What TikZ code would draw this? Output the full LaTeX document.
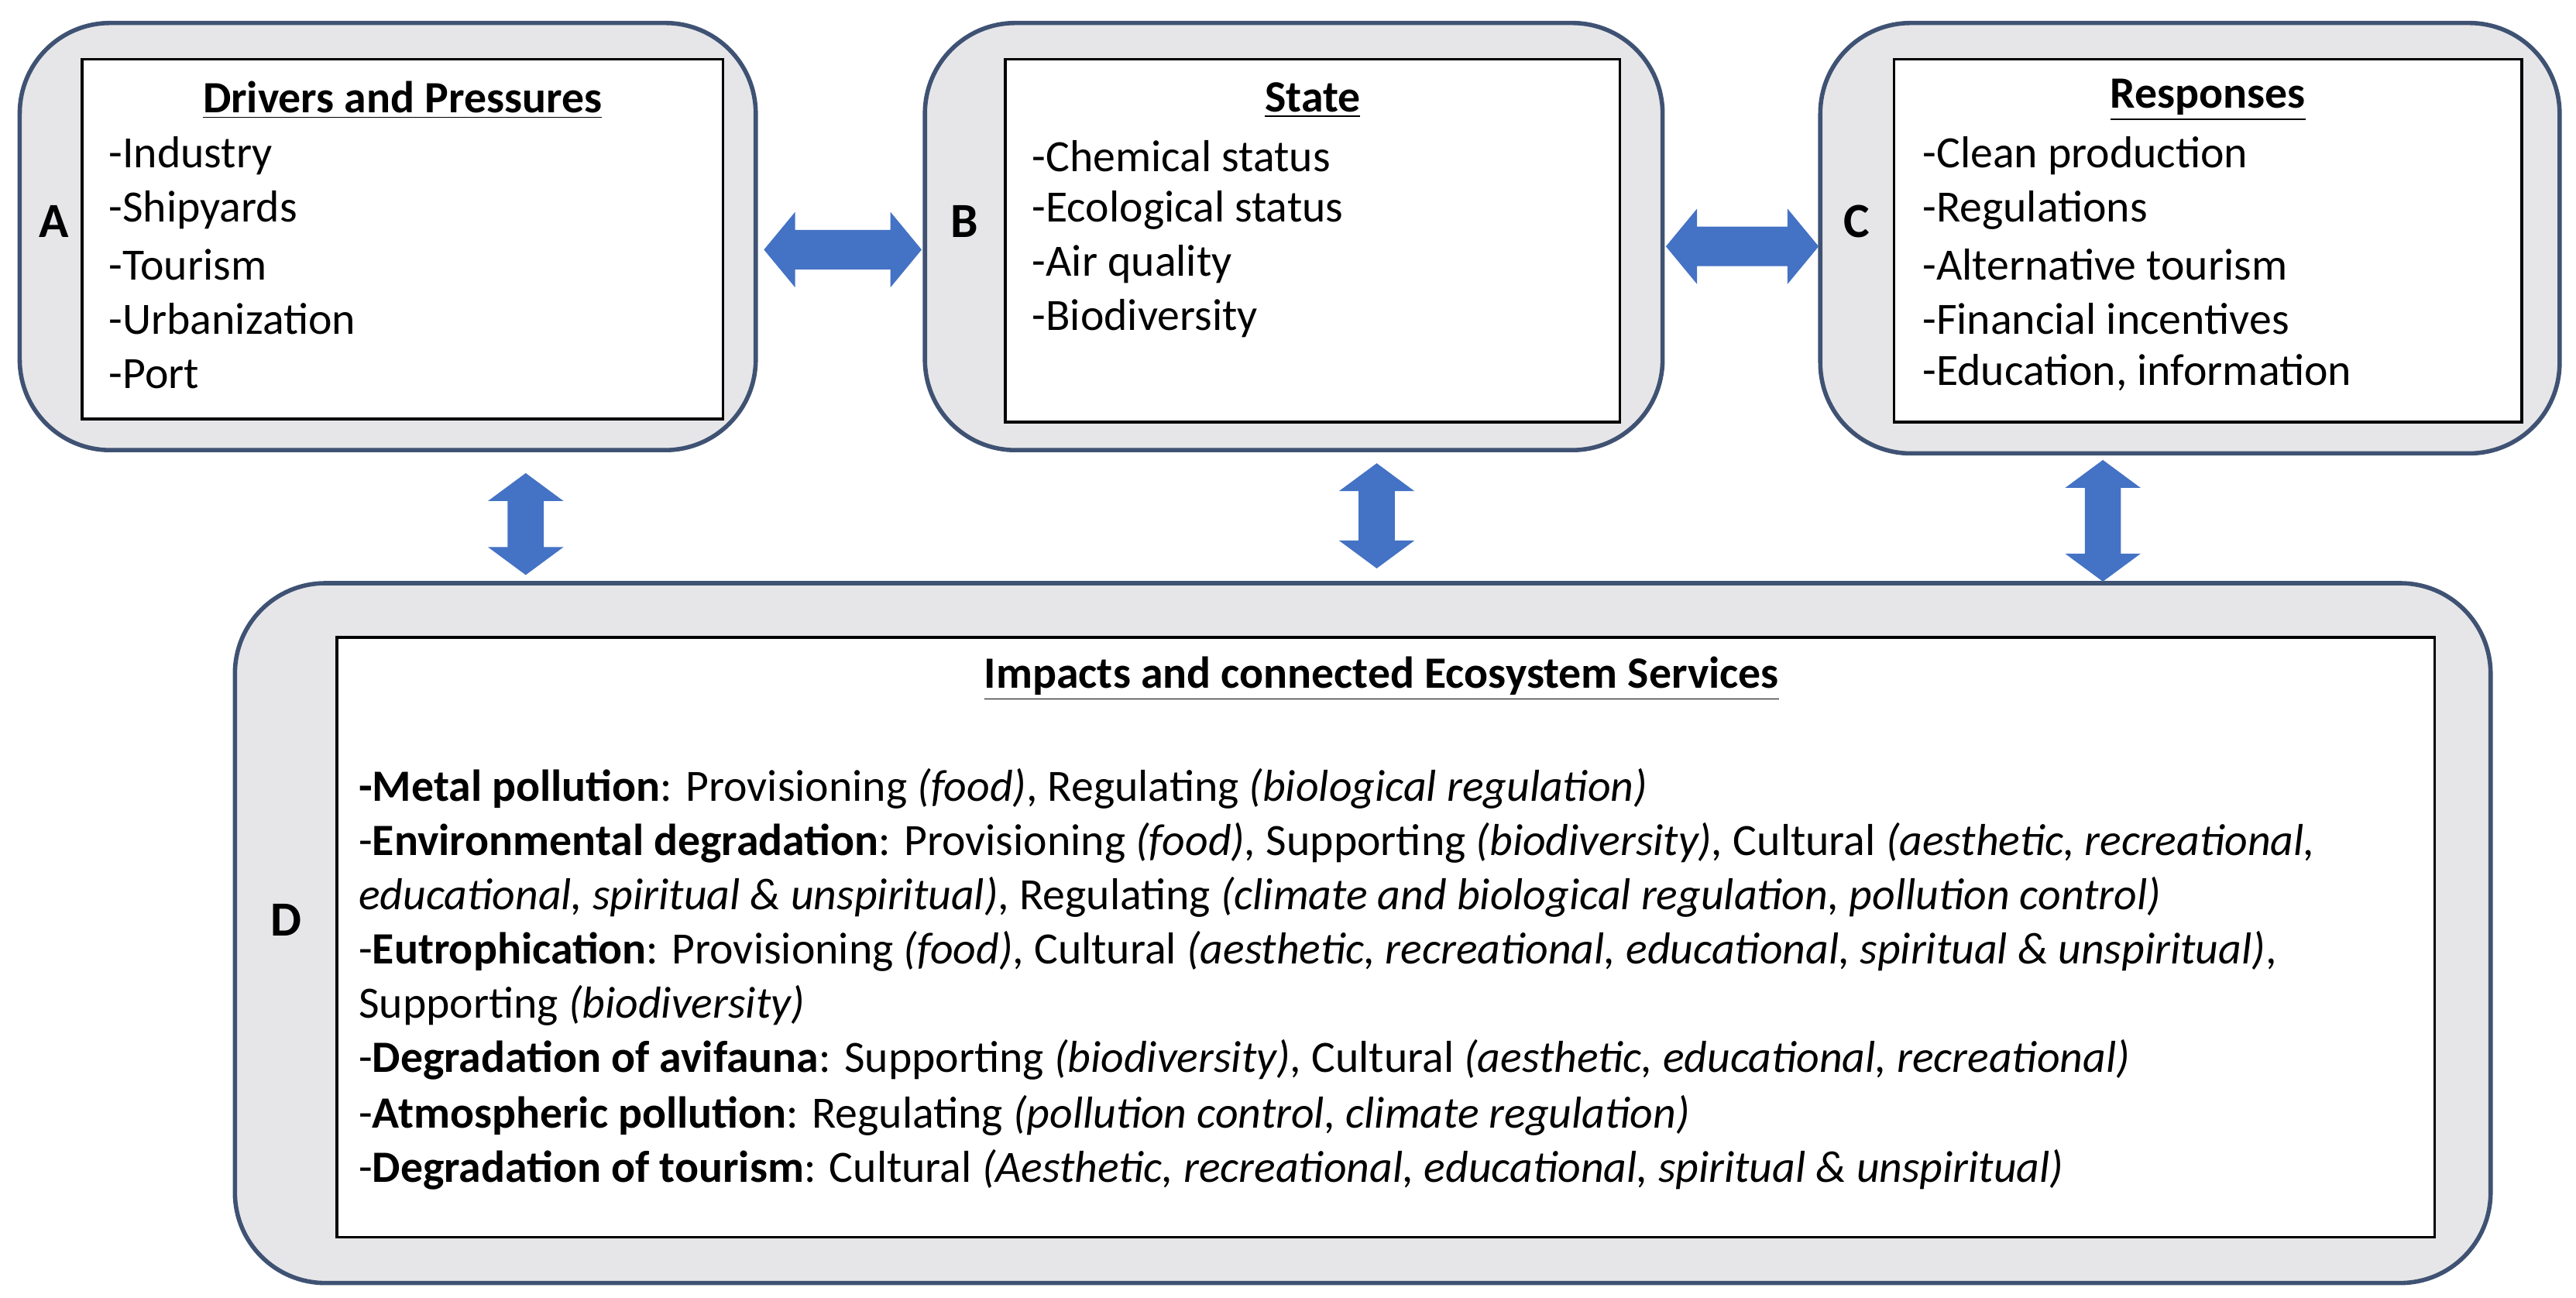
\documentclass[tikz,border=0pt]{standalone}
\usepackage{fontspec}
\setmainfont{Carlito}
\definecolor{bord}{HTML}{3F5273}
\definecolor{gfill}{HTML}{E6E6E8}
\definecolor{arr}{HTML}{4472C4}
\tikzset{
 outer/.style={draw=bord,line width=1.5pt,fill=gfill,rounded corners=1.1cm},
 inner/.style={draw=black,line width=0.9pt,fill=white},
 txt/.style={anchor=west,inner sep=0pt,font=\fontsize{15.5}{18.7}\selectfont},
 lab/.style={inner sep=0pt,font=\fontsize{17}{20}\selectfont\bfseries},
 ttl/.style={inner sep=0pt,font=\fontsize{15.5}{18.7}\selectfont\bfseries},
}
\newcommand\harrow[3]{% x1 x2 y
 \fill[arr] (#1,#3) -- (#1+19,#3-23) -- (#1+19,#3-12) -- (#2-19,#3-12) -- (#2-19,#3-23) -- (#2,#3) -- (#2-19,#3+23) -- (#2-19,#3+12) -- (#1+19,#3+12) -- (#1+19,#3+23) -- cycle;}
\newcommand\varrow[3]{% x y1 y2
 \fill[arr] (#1,#2) -- (#1-23,#2+17) -- (#1-11,#2+17) -- (#1-11,#3-17) -- (#1-23,#3-17) -- (#1,#3) -- (#1+23,#3-17) -- (#1+11,#3-17) -- (#1+11,#2+17) -- (#1+23,#2+17) -- cycle;}
\begin{document}
\begin{tikzpicture}[x=0.02cm,y=-0.02cm]
\useasboundingbox (0,0) rectangle (1568,790);
% boxes
\draw[outer] (12,14) rectangle (460,274);
\draw[inner] (50,36) rectangle (440,255);
\draw[outer] (563,14) rectangle (1012,274);
\draw[inner] (612,36) rectangle (986,257);
\draw[outer] (1108,14) rectangle (1558,276);
\draw[inner] (1153,36) rectangle (1535,257);
\draw[outer] (143,355) rectangle (1516,781);
\draw[inner] (205,388) rectangle (1482,753);
% arrows
\harrow{465}{561}{152}
\harrow{1014}{1107}{150}
\varrow{320}{288}{350}
\varrow{838}{282}{346}
\varrow{1280}{280}{354}
% labels
\node[lab] (la) at (33,135) {A};
\node[lab] (lb) at (587,135) {B};
\node[lab] (lc) at (1130,135) {C};
\node[lab] (ld) at (174,560) {D};
% A
\node[ttl] (ta) at (245,61) {\underline{Drivers and Pressures}};
\node[txt] (a1) at (66,95) {-Industry};
\node[txt] (a2) at (66,128) {-Shipyards};
\node[txt] (a3) at (66,161) {-Tourism};
\node[txt] (a4) at (66,194) {-Urbanization};
\node[txt] (a5) at (66,228) {-Port};
% B
\node[ttl] (tb) at (799,61) {\underline{State}};
\node[txt] (b1) at (628,95) {-Chemical status};
\node[txt] (b2) at (628,128) {-Ecological status};
\node[txt] (b3) at (628,161) {-Air quality};
\node[txt] (b4) at (628,194) {-Biodiversity};
% C
\node[ttl] (tc) at (1344,61) {\underline{Responses}};
\node[txt] (c1) at (1170,95) {-Clean production};
\node[txt] (c2) at (1170,128) {-Regulations};
\node[txt] (c3) at (1170,161) {-Alternative tourism};
\node[txt] (c4) at (1170,194) {-Financial incentives};
\node[txt] (c5) at (1170,227) {-Education, information};
% D
\node[ttl] (td) at (841,413) {\underline{Impacts and connected Ecosystem Services}};
\node[txt] (d1) at (218,480) {\textbf{-Metal pollution}: Provisioning \textit{(food)}, Regulating \textit{(biological regulation)}};
\node[txt] (d2) at (218,513) {-\textbf{Environmental degradation}: Provisioning \textit{(food),} Supporting \textit{(biodiversity),} Cultural \textit{(aesthetic, recreational,}};
\node[txt] (d3) at (218,546) {\textit{educational, spiritual \& unspiritual)}, Regulating \textit{(climate and biological regulation, pollution control)}};
\node[txt] (d4) at (218,579) {-\textbf{Eutrophication}: Provisioning \textit{(food)}, Cultural \textit{(aesthetic, recreational, educational, spiritual \& unspiritual)},};
\node[txt] (d5) at (218,612) {Supporting \textit{(biodiversity)}};
\node[txt] (d6) at (218,645) {-\textbf{Degradation of avifauna}: Supporting \textit{(biodiversity)}, Cultural \textit{(aesthetic, educational, recreational)}};
\node[txt] (d7) at (218,679) {-\textbf{Atmospheric pollution}: Regulating \textit{(pollution control, climate regulation)}};
\node[txt] (d8) at (218,712) {-\textbf{Degradation of tourism}: Cultural \textit{(Aesthetic, recreational, educational, spiritual \& unspiritual)}};
\end{tikzpicture}
\end{document}
